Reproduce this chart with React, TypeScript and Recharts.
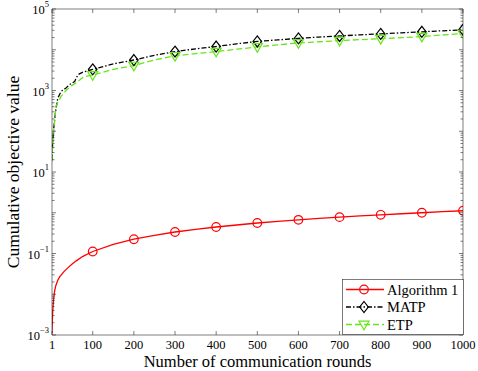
import React from 'react';
import { LineChart, Line, XAxis, YAxis } from 'recharts';

// x axis (communication rounds)
const xTicks = [1, 100, 200, 300, 400, 500, 600, 700, 800, 900, 1000];
// y axis: decades shown, and the ones that carry a label
const yDecades = [-3, -2, -1, 0, 1, 2, 3, 4, 5];
const yLabelExps = [-3, -1, 1, 3, 5];

// Algorithm 1 (red, solid, circles)
const alg1Rounds = [1, 2, 3, 5, 7, 10, 15, 20, 30, 40, 50, 60, 75, 100, 150, 200, 250, 300, 350, 400, 450, 500, 550, 600, 650, 700, 750, 800, 850, 900, 950, 1000];
const alg1Values = [0.0011, 0.0025, 0.0042, 0.0075, 0.0115, 0.016, 0.022, 0.027, 0.036, 0.045, 0.055, 0.066, 0.084, 0.112, 0.168, 0.224, 0.28, 0.337, 0.39, 0.447, 0.5, 0.56, 0.615, 0.67, 0.725, 0.78, 0.835, 0.89, 0.945, 1.0, 1.06, 1.12];

// MATP (black, dash-dot, diamonds)
const matpRounds = [1, 2, 3, 5, 7, 10, 15, 23, 35, 43, 56, 64, 76, 88, 100, 150, 200, 250, 300, 350, 400, 450, 500, 550, 600, 650, 700, 750, 800, 850, 900, 950, 1000];
const matpValues = [20, 38, 60, 110, 180, 320, 650, 950, 1150, 1380, 1660, 2430, 2830, 3040, 3300, 4500, 5600, 7300, 9000, 10500, 12000, 14000, 16000, 17500, 19000, 20500, 21800, 23200, 24500, 26000, 27600, 29200, 30900];

// ETP (green, dashed, down triangles)
const etpRounds = [1, 2, 3, 5, 7, 11, 23, 35, 48, 60, 72, 80, 100, 150, 200, 250, 300, 350, 400, 450, 500, 550, 600, 650, 700, 750, 800, 850, 900, 950, 1000];
const etpValues = [18, 35, 55, 100, 160, 420, 715, 1000, 1300, 1550, 1940, 2200, 2400, 3300, 4100, 5600, 7100, 8000, 9000, 10300, 11700, 13200, 14700, 15700, 16700, 17700, 18700, 19800, 21000, 23000, 25000];

const RED = '#ff0000';
const BLACK = '#000000';
const GREEN = '#66e619';
const AXIS = '#262626';
const FONT = '"Liberation Serif", "DejaVu Serif", serif';

const toSeries = (rounds: number[], values: number[]) =>
  rounds.map((x, i) => ({ x, y: values[i] }));

const alg1Data = toSeries(alg1Rounds, alg1Values);
const matpData = toSeries(matpRounds, matpValues);
const etpData = toSeries(etpRounds, etpValues);

const yTicks: number[] = [];
yDecades.forEach(e => {
  if (e === 5) {
    yTicks.push(1e5);
    return;
  }
  for (let m = 1; m <= 9; m++) yTicks.push(m * Math.pow(10, e));
});

const isDecade = (v: number) => {
  const l = Math.log10(v);
  return Math.abs(l - Math.round(l)) < 1e-9;
};

const Circle = ({ cx, cy, color }: any) => (
  <circle cx={cx} cy={cy} r={4.3} fill="none" stroke={color} strokeWidth={1.2} strokeDasharray="none" />
);
const Diamond = ({ cx, cy, color }: any) => (
  <path
    d={`M${cx},${cy - 5.5}L${cx + 4.3},${cy}L${cx},${cy + 5.5}L${cx - 4.3},${cy}Z`}
    fill="none"
    stroke={color}
    strokeWidth={1.2}
    strokeDasharray="none"
  />
);
const TriDown = ({ cx, cy, color }: any) => (
  <path
    d={`M${cx - 5},${cy - 3.3}L${cx + 5},${cy - 3.3}L${cx},${cy + 5.3}Z`}
    fill="none"
    stroke={color}
    strokeWidth={1.2}
    strokeDasharray="none"
  />
);

const markerDot = (Shape: any, color: string) => (props: any) => {
  const { cx, cy, payload, index } = props;
  if (payload.x % 100 !== 0) return <g key={`d${index}`} />;
  return (
    <g key={`d${index}`}>
      <Shape cx={cx} cy={cy} color={color} />
    </g>
  );
};

const BottomTick = ({ x, y, payload }: any) => (
  <g>
    <line x1={x} y1={y} x2={x} y2={y - 4} stroke={AXIS} strokeWidth={0.6} />
    <text x={x} y={y + 14} textAnchor="middle" fontSize={12.5} fontFamily={FONT} fill="#000">
      {payload.value}
    </text>
  </g>
);

const TopTick = ({ x, y }: any) => (
  <line x1={x} y1={y} x2={x} y2={y + 4} stroke={AXIS} strokeWidth={0.6} />
);

const LeftTick = ({ x, y, payload }: any) => {
  const v = payload.value;
  const major = isDecade(v);
  const exp = Math.round(Math.log10(v));
  return (
    <g>
      <line x1={x} y1={y} x2={x + (major ? 4 : 2.5)} y2={y} stroke={AXIS} strokeWidth={0.6} />
      {major && yLabelExps.includes(exp) && (
        <text x={x - 3} y={y + 5} textAnchor="end" fontFamily={FONT} fill="#000">
          <tspan fontSize={12.5}>10</tspan>
          <tspan fontSize={8.5} dy={-7}>{exp < 0 ? `\u2212${-exp}` : exp}</tspan>
        </text>
      )}
    </g>
  );
};

const RightTick = ({ x, y, payload }: any) => {
  const major = isDecade(payload.value);
  return <line x1={x} y1={y} x2={x - (major ? 4 : 2.5)} y2={y} stroke={AXIS} strokeWidth={0.6} />;
};

const XTitle = ({ viewBox }: any) => (
  <text
    x={viewBox.x + viewBox.width / 2}
    y={viewBox.y + viewBox.height - 4}
    textAnchor="middle"
    fontSize={16.5}
    fontFamily={FONT}
    fill="#000"
  >
    Number of communication rounds
  </text>
);

const YTitle = ({ viewBox }: any) => {
  const cx = viewBox.x + 13;
  const cy = viewBox.y + viewBox.height / 2;
  return (
    <text
      x={cx}
      y={cy}
      transform={`rotate(-90, ${cx}, ${cy})`}
      textAnchor="middle"
      dominantBaseline="central"
      fontSize={17.5}
      fontFamily={FONT}
      fill="#000"
    >
      Cumulative objective value
    </text>
  );
};

const legendItems = [
  { name: 'Algorithm 1', color: RED, dash: undefined, Shape: Circle },
  { name: 'MATP', color: BLACK, dash: '5 2 1.5 2', Shape: Diamond },
  { name: 'ETP', color: GREEN, dash: '6 3', Shape: TriDown },
];

const LegendBox = () => (
  <svg
    width={122}
    height={56}
    style={{ position: 'absolute', left: 341.5, top: 278.5, overflow: 'visible' }}
  >
    <rect x={0.5} y={0.5} width={121} height={55} fill="#fff" stroke={AXIS} strokeWidth={0.6} />
    {legendItems.map((it, i) => {
      const cy = 10.5 + i * 17.5;
      return (
        <g key={it.name}>
          <line x1={4} y1={cy} x2={42} y2={cy} stroke={it.color} strokeWidth={1.3} strokeDasharray={it.dash} />
          <it.Shape cx={22} cy={cy} color={it.color} />
          <text x={45} y={cy + 5} fontSize={14.5} fontFamily={FONT} fill="#000">
            {it.name}
          </text>
        </g>
      );
    })}
  </svg>
);

export default function App() {
  return (
    <div style={{ position: 'absolute', left: 0, top: 0, width: 478, height: 371, background: '#fff' }}>
      <LineChart width={478} height={371} margin={{ top: 8, right: 14, bottom: 0, left: 0 }}>
        <XAxis
          xAxisId="b"
          type="number"
          dataKey="x"
          domain={[1, 1000]}
          ticks={xTicks}
          allowDataOverflow
          height={36}
          tickSize={0}
          tickMargin={0}
          tickLine={false}
          axisLine={{ stroke: AXIS, strokeWidth: 0.6 }}
          tick={<BottomTick />}
          interval={0}
          label={<XTitle />}
        />
        <XAxis
          xAxisId="t"
          orientation="top"
          type="number"
          dataKey="x"
          domain={[1, 1000]}
          ticks={xTicks}
          allowDataOverflow
          height={1}
          tickSize={0}
          tickMargin={0}
          tickLine={false}
          axisLine={{ stroke: AXIS, strokeWidth: 0.6 }}
          tick={<TopTick />}
          interval={0}
        />
        <YAxis
          yAxisId="l"
          type="number"
          scale="log"
          domain={[1e-3, 1e5]}
          ticks={yTicks}
          allowDataOverflow
          width={52}
          tickSize={0}
          tickMargin={0}
          tickLine={false}
          axisLine={{ stroke: AXIS, strokeWidth: 0.6 }}
          tick={<LeftTick />}
          interval={0}
          label={<YTitle />}
        />
        <YAxis
          yAxisId="r"
          orientation="right"
          type="number"
          scale="log"
          domain={[1e-3, 1e5]}
          ticks={yTicks}
          allowDataOverflow
          width={1}
          tickSize={0}
          tickMargin={0}
          tickLine={false}
          axisLine={{ stroke: AXIS, strokeWidth: 0.6 }}
          tick={<RightTick />}
          interval={0}
        />
        <Line
          xAxisId="b"
          yAxisId="l"
          data={matpData}
          dataKey="y"
          type="linear"
          stroke={BLACK}
          strokeWidth={1.3}
          strokeDasharray="5 2 1.5 2"
          dot={markerDot(Diamond, BLACK)}
          isAnimationActive={false}
        />
        <Line
          xAxisId="b"
          yAxisId="l"
          data={etpData}
          dataKey="y"
          type="linear"
          stroke={GREEN}
          strokeWidth={1.3}
          strokeDasharray="6 3"
          dot={markerDot(TriDown, GREEN)}
          isAnimationActive={false}
        />
        <Line
          xAxisId="b"
          yAxisId="l"
          data={alg1Data}
          dataKey="y"
          type="linear"
          stroke={RED}
          strokeWidth={1.3}
          dot={markerDot(Circle, RED)}
          isAnimationActive={false}
        />
      </LineChart>
      <LegendBox />
    </div>
  );
}
